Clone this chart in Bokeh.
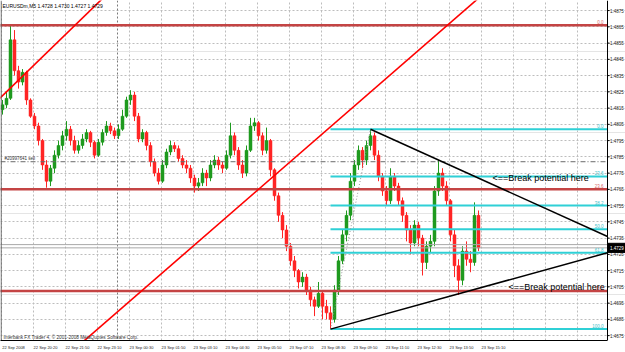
from bokeh.plotting import figure
from bokeh.models import Range1d, FixedTicker, Span, ColumnDataSource, Grid
from bokeh.embed import file_html
from bokeh.resources import INLINE
from bokeh.core.properties import value

FONT = "Liberation Sans"

header_text = "EURUSDm,M5  1.4728 1.4730 1.4727 1.4729"
copyright_text = "Interbank FX Trader 4, \u00a9 2001-2008 MetaQuotes Software Corp."
order_text = "#20997641 sell"
note_text = "<==Break potential here"

time_labels = ["22 Sep 2008", "22 Sep 20:20", "22 Sep 21:50", "22 Sep 23:10", "23 Sep 00:30",
               "23 Sep 01:50", "23 Sep 03:10", "23 Sep 04:30", "23 Sep 05:50", "23 Sep 07:10",
               "23 Sep 08:30", "23 Sep 09:50", "23 Sep 11:10", "23 Sep 12:30", "23 Sep 13:50",
               "23 Sep 15:10"]

first_open = 1.4814
closes = [
    1.4817, 1.4821, 1.4857, 1.4838, 1.4831, 1.4837, 1.4820, 1.4810, 1.4804, 1.4795,
    1.4780, 1.4770, 1.4778, 1.4786, 1.4792, 1.4798, 1.4802, 1.4795, 1.4789, 1.4792,
    1.4796, 1.4800, 1.4794, 1.4786, 1.4794, 1.4800, 1.4804, 1.4801, 1.4798, 1.4802,
    1.4810, 1.4820, 1.4823, 1.4810, 1.4796, 1.4800, 1.4792, 1.4782, 1.4775, 1.4770,
    1.4780, 1.4788, 1.4792, 1.4790, 1.4784, 1.4780, 1.4778, 1.4772, 1.4767, 1.4769,
    1.4775, 1.4772, 1.4780, 1.4783, 1.4780, 1.4778, 1.4786, 1.4798, 1.4789, 1.4780,
    1.4775, 1.4789, 1.4804, 1.4806, 1.4798, 1.4789, 1.4795, 1.4777, 1.4761, 1.4749,
    1.4740, 1.4730, 1.4721, 1.4715, 1.4708, 1.4711, 1.4703, 1.4697, 1.4693, 1.4701,
    1.4693, 1.4689, 1.4685, 1.4703, 1.4721, 1.4737, 1.4749, 1.4770, 1.4780, 1.4789,
    1.4783, 1.4792, 1.4798, 1.4786, 1.4773, 1.4764, 1.4758, 1.4773, 1.4767, 1.4758,
    1.4749, 1.4740, 1.4732, 1.4743, 1.4735, 1.4720, 1.4730, 1.4733, 1.4764, 1.4775,
    1.4767, 1.4758, 1.4737, 1.4718, 1.4709, 1.4727, 1.4722, 1.4720, 1.4749, 1.4729,
]
highs = [
    1.4820, 1.4825, 1.4866, 1.4863, 1.4841, 1.4839, 1.4838, 1.4821, 1.4812, 1.4806,
    1.4796, 1.4783, 1.4780, 1.4789, 1.4795, 1.4801, 1.4807, 1.4804, 1.4798, 1.4795,
    1.4799, 1.4802, 1.4801, 1.4795, 1.4796, 1.4802, 1.4807, 1.4806, 1.4803, 1.4805,
    1.4814, 1.4822, 1.4826, 1.4825, 1.4812, 1.4802, 1.4801, 1.4794, 1.4784, 1.4778,
    1.4783, 1.4790, 1.4795, 1.4794, 1.4792, 1.4786, 1.4783, 1.4780, 1.4774, 1.4772,
    1.4778, 1.4777, 1.4783, 1.4786, 1.4785, 1.4782, 1.4789, 1.4806, 1.4800, 1.4791,
    1.4783, 1.4792, 1.4809, 1.4809, 1.4807, 1.4800, 1.4803, 1.4796, 1.4778, 1.4763,
    1.4751, 1.4743, 1.4732, 1.4724, 1.4716, 1.4714, 1.4713, 1.4705, 1.4699, 1.4708,
    1.4703, 1.4697, 1.4693, 1.4706, 1.4724, 1.4740, 1.4752, 1.4775, 1.4783, 1.4792,
    1.4791, 1.4795, 1.4802, 1.4800, 1.4789, 1.4775, 1.4767, 1.4778, 1.4775, 1.4769,
    1.4760, 1.4751, 1.4743, 1.4746, 1.4745, 1.4737, 1.4733, 1.4737, 1.4767, 1.4783,
    1.4778, 1.4770, 1.4759, 1.4740, 1.4722, 1.4730, 1.4733, 1.4727, 1.4757, 1.4752,
]
lows = [
    1.4811, 1.4815, 1.4820, 1.4835, 1.4827, 1.4829, 1.4817, 1.4809, 1.4802, 1.4792,
    1.4777, 1.4766, 1.4767, 1.4775, 1.4784, 1.4789, 1.4795, 1.4792, 1.4787, 1.4787,
    1.4790, 1.4794, 1.4791, 1.4784, 1.4785, 1.4792, 1.4798, 1.4799, 1.4796, 1.4796,
    1.4801, 1.4809, 1.4817, 1.4807, 1.4794, 1.4794, 1.4789, 1.4779, 1.4773, 1.4768,
    1.4769, 1.4778, 1.4786, 1.4788, 1.4782, 1.4778, 1.4775, 1.4769, 1.4763, 1.4764,
    1.4767, 1.4767, 1.4770, 1.4778, 1.4777, 1.4775, 1.4777, 1.4784, 1.4786, 1.4777,
    1.4772, 1.4773, 1.4788, 1.4801, 1.4795, 1.4786, 1.4787, 1.4773, 1.4758, 1.4745,
    1.4735, 1.4727, 1.4718, 1.4711, 1.4704, 1.4705, 1.4700, 1.4693, 1.4687, 1.4692,
    1.4685, 1.4685, 1.4679, 1.4683, 1.4700, 1.4719, 1.4733, 1.4746, 1.4767, 1.4777,
    1.4778, 1.4780, 1.4789, 1.4783, 1.4770, 1.4761, 1.4755, 1.4756, 1.4764, 1.4755,
    1.4745, 1.4733, 1.4725, 1.4730, 1.4730, 1.4712, 1.4716, 1.4726, 1.4730, 1.4761,
    1.4764, 1.4755, 1.4733, 1.4711, 1.4700, 1.4706, 1.4718, 1.4714, 1.4718, 1.4727,
]

# Fibonacci retracements (anchor prices and ratios)
fib_red_high, fib_red_low = 1.4866, 1.4438
fib_red_ratios = [0.0, 23.6, 38.2]
fib_cyan_high, fib_cyan_low = 1.4802, 1.4679
fib_cyan_ratios = [0.0, 23.6, 38.2, 50.0, 61.8, 100.0]
fib_cyan_start = 164.5   # bar position of the swing-low anchor

# trend lines: two anchors (bar position, price)
tl_upper_x, tl_upper_y = [184.5, 303.0], [1.4802, 1.4736]
tl_lower_x, tl_lower_y = [164.5, 303.0], [1.4679, 1.4726]
fib_diag_x, fib_diag_y = [164.5, 184.5], [1.4679, 1.4802]
chan_main_x, chan_main_y = [41.5, 237.0], [1.4672, 1.4881]
chan_left_x, chan_left_y = [-0.5, 49.5], [1.48215, 1.48812]

order_price = 1.4782
bid_price, ask_price = 1.4729, 1.4731
day_separator = 58

price_ticks = [1.4675, 1.4685, 1.4695, 1.4705, 1.4715, 1.4725, 1.4735, 1.4745, 1.4755,
               1.4765, 1.4775, 1.4785, 1.4795, 1.4805, 1.4815, 1.4825, 1.4835, 1.4845,
               1.4855, 1.4865, 1.4875]

y_lo, y_hi = 1.46720, 1.48812
x_lo, x_edge, x_hi = -0.5, 303.0, 312.0   # chart area ends at x_edge, price scale beyond

# ---------------------------------------------------------------
n = len(closes)
bar_x = [0.5 + 2 * k for k in range(n)]
opens = [first_open] + closes[:-1]
up_col, dn_col = "#1f9a1f", "#ff2525"
colors = [up_col if c >= o else dn_col for o, c in zip(opens, closes)]
src = ColumnDataSource(dict(
    x=bar_x, high=highs, low=lows, color=colors,
    top=[max(o, c) for o, c in zip(opens, closes)],
    bot=[min(o, c) for o, c in zip(opens, closes)],
))

p = figure(width=625, height=352, output_backend="svg", toolbar_location=None,
           x_range=Range1d(x_lo, x_hi), y_range=Range1d(y_lo, y_hi),
           y_axis_location=None, min_border_left=0, min_border_top=0,
           min_border_right=0, min_border_bottom=12,
           background_fill_color="white", border_fill_color="white")
p.outline_line_color = None

grid_x = [16 * j for j in range(19)]
p.xgrid.ticker = FixedTicker(ticks=grid_x)
p.xgrid.grid_line_color = "#bdbdbd"
p.xgrid.grid_line_dash = "2 2"
yg = Grid(dimension=1, ticker=FixedTicker(ticks=price_ticks), bounds=(x_lo, x_edge),
          grid_line_color="#bdbdbd", grid_line_dash="2 2")
p.add_layout(yg)

xa = p.xaxis[0]
label_ticks = [float(g + 6) for g in grid_x[:len(time_labels)]]
xa.ticker = FixedTicker(ticks=label_ticks)
xa.major_label_overrides = {t: s for t, s in zip(label_ticks, time_labels)}
xa.major_label_text_font = FONT
xa.major_label_text_font_size = "4px"
xa.major_label_text_color = "#222222"
xa.major_tick_out = 0
xa.major_tick_in = 0
xa.minor_tick_out = 0
xa.minor_tick_in = 0
xa.major_label_standoff = 4
xa.axis_line_color = "black"
xa.bounds = (x_lo, x_edge)

p.add_layout(Span(location=day_separator, dimension="height", line_color="#7a7a7a",
                  line_dash="2 2", line_width=1, level="underlay"))

# candles
p.segment(x0="x", y0="low", x1="x", y1="high", line_color="color", line_width=1, source=src)
p.vbar(x="x", width=1.5, top="top", bottom="bot", fill_color="color", line_color="color",
       line_width=0.5, source=src)

# order line and bid/ask
p.segment(x0=[x_lo - 5], y0=[order_price], x1=[x_edge], y1=[order_price],
          line_color="#6a6a6a", line_dash="5 2 1 2", line_width=1)
p.segment(x0=[x_lo - 5, x_lo - 5], y0=[bid_price, ask_price], x1=[x_edge, x_edge],
          y1=[bid_price, ask_price], line_color="#a8a8a8", line_width=1)

# red fib
red_levels = [fib_red_high - r / 100.0 * (fib_red_high - fib_red_low) for r in fib_red_ratios]
p.segment(x0=[x_lo - 5] * len(red_levels), y0=red_levels, x1=[x_edge] * len(red_levels),
          y1=red_levels, line_color="#c44444", line_width=2.5)
p.text(x=[x_edge - 2] * len(red_levels), y=red_levels, text=[f"{r:.1f}" for r in fib_red_ratios],
       text_font=value(FONT), text_font_size="4.5px", text_color="#d86a6a",
       text_align="right", text_baseline="bottom", y_offset=-1)

# cyan fib
cyan_levels = [fib_cyan_high - r / 100.0 * (fib_cyan_high - fib_cyan_low) for r in fib_cyan_ratios]
p.segment(x0=[fib_cyan_start] * len(cyan_levels), y0=cyan_levels,
          x1=[x_edge] * len(cyan_levels), y1=cyan_levels, line_color="#2fd0d6", line_width=2)
p.text(x=[x_edge - 2] * len(cyan_levels), y=cyan_levels, text=[f"{r:.1f}" for r in fib_cyan_ratios],
       text_font=value(FONT), text_font_size="4.5px", text_color="#3cc4cc",
       text_align="right", text_baseline="bottom", y_offset=-1)


def ray(xs, ys, a, b):
    s = (ys[1] - ys[0]) / (xs[1] - xs[0])
    b = min(b, x_edge)
    return [a, b], [ys[0] + (a - xs[0]) * s, ys[0] + (b - xs[0]) * s]


# red channel lines
for xs, ys in ((chan_main_x, chan_main_y), (chan_left_x, chan_left_y)):
    ex, ey = ray(xs, ys, xs[0] - 20, xs[1] + 20)
    p.line(ex, ey, line_color="#ff0000", line_width=1.6)

# fib diagonal (dotted)
p.line(fib_diag_x, fib_diag_y, line_color="#9a9a9a", line_dash="1 2", line_width=1)

# black trend lines
for xs, ys in ((tl_upper_x, tl_upper_y), (tl_lower_x, tl_lower_y)):
    ex, ey = ray(xs, ys, xs[0], xs[1])
    p.line(ex, ey, line_color="black", line_width=1.5)

# price scale (right side)
p.segment(x0=[x_edge], y0=[y_lo], x1=[x_edge], y1=[y_hi], line_color="black", line_width=1)
p.segment(x0=[x_edge] * len(price_ticks), y0=price_ticks, x1=[x_edge + 1.0] * len(price_ticks),
          y1=price_ticks, line_color="black", line_width=1)
p.text(x=[x_edge + 1.3] * len(price_ticks), y=price_ticks, text=[f"{v:.4f}" for v in price_ticks],
       text_font=value(FONT), text_font_size="4.5px", text_color="#222222",
       text_align="left", text_baseline="middle")
p.quad(left=[x_edge + 0.2], right=[x_hi + 1], bottom=[closes[-1] - 0.00028],
       top=[closes[-1] + 0.00028], fill_color="black", line_color="black")
p.text(x=[x_edge + 1.3], y=[closes[-1]], text=[f"{closes[-1]:.4f}"], text_font=value(FONT),
       text_font_size="4.5px", text_color="white", text_align="left", text_baseline="middle")

# left border
p.segment(x0=[x_lo + 0.3], y0=[y_lo], x1=[x_lo + 0.3], y1=[y_hi], line_color="#555555",
          line_width=1)

# notes
p.text(x=[245.5, 253.5], y=[1.4772, 1.4705], text=[note_text, note_text],
       text_font=value(FONT), text_font_size="9px", text_color="black",
       text_align="left", text_baseline="middle")
p.text(x=[1.5], y=[order_price], text=[order_text], text_font=value(FONT),
       text_font_size="4.5px", text_color="#333333", text_baseline="bottom", y_offset=-1)
p.text(x=[0.5], y=[y_hi], text=[header_text], text_font=value(FONT),
       text_font_size="5px", text_color="black", text_baseline="top", y_offset=2)
p.text(x=[1.0], y=[1.46738], text=[copyright_text], text_font=value(FONT),
       text_font_size="4.7px", text_color="#333333", text_baseline="middle")

open("out.html", "w").write(file_html(p, INLINE))
